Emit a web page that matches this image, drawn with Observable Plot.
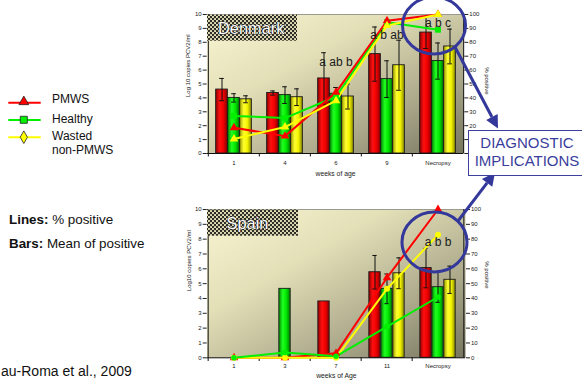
<!DOCTYPE html>
<html><head><meta charset="utf-8">
<script src="https://cdn.jsdelivr.net/npm/d3@7"></script>
<script src="https://cdn.jsdelivr.net/npm/@observablehq/plot@0.6"></script>
<style>
html,body{margin:0;padding:0}
body{width:582px;height:383px;position:relative;overflow:hidden;background:#fff;font-family:"Liberation Sans",Arial,sans-serif;color:#111}
.abs{position:absolute;white-space:nowrap}
</style></head><body>
<svg width="0" height="0" style="position:absolute">
<defs>
<linearGradient id="bgGrad" x1="0" y1="0" x2="1" y2="1">
<stop offset="0" stop-color="#f8f5d3"/><stop offset="0.35" stop-color="#e3dfb7"/><stop offset="0.7" stop-color="#aeab8d"/><stop offset="1" stop-color="#76755f"/>
</linearGradient>
<linearGradient id="bar0" x1="0" y1="0" x2="1" y2="0">
<stop offset="0" stop-color="#900000"/><stop offset="0.35" stop-color="#ff1010"/><stop offset="0.65" stop-color="#f00000"/><stop offset="1" stop-color="#8a0000"/>
</linearGradient>
<linearGradient id="bar1" x1="0" y1="0" x2="1" y2="0">
<stop offset="0" stop-color="#008800"/><stop offset="0.35" stop-color="#20ff20"/><stop offset="0.65" stop-color="#00e800"/><stop offset="1" stop-color="#007a00"/>
</linearGradient>
<linearGradient id="bar2" x1="0" y1="0" x2="1" y2="0">
<stop offset="0" stop-color="#9a9a00"/><stop offset="0.35" stop-color="#ffff30"/><stop offset="0.65" stop-color="#f5f500"/><stop offset="1" stop-color="#8a8a00"/>
</linearGradient>
<pattern id="dots" width="4" height="4" patternUnits="userSpaceOnUse">
<rect width="4" height="4" fill="#2e2e27"/><circle cx="1" cy="1" r="1.05" fill="#eeebc2"/><circle cx="3" cy="3" r="1.05" fill="#eeebc2"/>
</pattern>
</defs></svg>

<div id="dk" class="abs" style="left:160px;top:0px"></div>
<div id="es" class="abs" style="left:160px;top:190px"></div>
<svg id="ov" class="abs" style="left:0;top:0" width="582" height="383"></svg>

<div class="abs" style="left:52px;top:93.3px;font-size:12px;line-height:12px">PMWS</div>
<div class="abs" style="left:52px;top:113.3px;font-size:12px;line-height:12px">Healthy</div>
<div class="abs" style="left:52px;top:128.7px;font-size:12px;line-height:14.7px">Wasted<br>non-PMWS</div>
<div class="abs" style="left:9px;top:212.5px;font-size:13.4px;line-height:13px"><b>Lines:</b> % positive</div>
<div class="abs" style="left:9px;top:236.5px;font-size:13.4px;line-height:13px"><b>Bars:</b> Mean of positive</div>
<div class="abs" style="left:1px;top:364px;font-size:14px;line-height:14px">au-Roma et al., 2009</div>
<div class="abs" style="left:468px;top:130px;width:116px;height:41px;border:1px solid #3d409c;background:#fff;color:#3a3d9c;font-size:15px;line-height:18.3px;text-align:center;padding-top:3px;box-sizing:content-box">DIAGNOSTIC<br>IMPLICATIONS</div>

<script>
// ---- data ----
const series = ["PMWS", "Healthy", "Wasted non-PMWS"];
const seriesColors = ["#ff0000", "#00f000", "#ffff00"];

const dkWeeks = ["1", "4", "6", "9", "Necropsy"];
const dkPmwsMean = [4.6, 4.35, 5.4, 7.15, 8.7];
const dkPmwsErr = [0.8, 0.15, 1.85, 1.95, 1.15];
const dkHealthyMean = [4.0, 4.2, 4.3, 5.35, 6.65];
const dkHealthyErr = [0.3, 0.6, 0.45, 1.32, 1.3];
const dkWastedMean = [3.9, 4.05, 4.1, 6.35, 7.7];
const dkWastedErr = [0.25, 0.6, 0.9, 1.8, 1.25];
const dkPmwsPct = [18.5, 12.5, 44, 95.5, 100];
const dkHealthyPct = [27, 25.5, 41, 94.5, 89];
const dkWastedPct = [10.5, 19, 38, 92, 100];
const dkLetterWeeks = ["6", "9", "Necropsy"];
const dkLetters = ["a ab b", "a b ab", "a b c"];
const dkLetterLevel = [6.55, 8.5, 9.35];

const esWeeks = ["1", "3", "7", "11", "Necropsy"];
const esPmwsMean = [null, null, 3.8, 5.77, 6.05];
const esPmwsErr = [null, null, null, 1.13, 1.33];
const esHealthyMean = [null, 4.65, null, 4.65, 4.76];
const esHealthyErr = [null, null, null, 1.0, 1.02];
const esWastedMean = [null, null, null, 5.7, 5.26];
const esWastedErr = [null, null, null, 1.04, 0.92];
const esPmwsPct = [0, 0, 3, 54, 100];
const esHealthyPct = [0, 3.5, 1, 21, 41];
const esWastedPct = [0, 0, 0, 46.5, 83];
const esLetterWeeks = ["Necropsy"];
const esLetters = ["a b b"];
const esLetterLevel = [7.8];

const yTicks = [0, 1, 2, 3, 4, 5, 6, 7, 8, 9, 10];

function panel(o) {
  const plotW = o.width - o.ml - o.mr;
  const bw = plotW / o.weeks.length;
  const offs = [-12, 0, 12];
  const rows = [];
  series.forEach((name, s) => o.weeks.forEach((w, i) => rows.push({
    week: w, s, mean: o.means[s][i], err: o.errs[s][i], pct: o.pcts[s][i]
  })));
  const letterRows = o.letterWeeks.map((w, i) => ({week: w, label: o.letters[i], level: o.letterLevel[i]}));
  const marks = [Plot.frame({fill: "url(#bgGrad)"})];
  series.forEach((name, s) => {
    marks.push(Plot.barY(rows.filter(d => d.s === s && d.mean != null), {
      x: "week", y: "mean", fill: `url(#bar${s})`, stroke: "#1a1a1a", strokeWidth: 0.9,
      insetLeft: bw / 2 + offs[s] - 6, insetRight: bw / 2 - offs[s] - 6
    }));
  });
  series.forEach((name, s) => {
    const er = rows.filter(d => d.s === s && d.err != null);
    marks.push(Plot.ruleX(er, {x: "week", y1: d => d.mean - d.err, y2: d => d.mean + d.err, dx: offs[s], stroke: "#111", strokeWidth: 1}));
    for (const sign of [-1, 1]) {
      marks.push(Plot.tickY(er, {x: "week", y: d => d.mean + sign * d.err, stroke: "#111", strokeWidth: 1,
        insetLeft: bw / 2 + offs[s] - 2.5, insetRight: bw / 2 - offs[s] - 2.5}));
    }
  });
  // frame lines
  marks.push(Plot.ruleY([10], {stroke: "#9a9a90", strokeWidth: 1}));
  marks.push(Plot.ruleY([0], {stroke: "#111", strokeWidth: 1}));
  marks.push(Plot.ruleX([o.weeks[0]], {y1: 0, y2: 10, dx: -bw / 2, stroke: "#111"}));
  marks.push(Plot.ruleX([o.weeks[o.weeks.length - 1]], {y1: 0, y2: 10, dx: bw / 2, stroke: "#111"}));
  marks.push(Plot.ruleX(o.weeks, {y1: 0, y2: -0.25, dx: -bw / 2, stroke: "#111"}));
  // lines (% positive, right axis scaled by 10)
  o.lineOrder.forEach(s => {
    const lr = rows.filter(d => d.s === s);
    marks.push(Plot.line(lr, {x: "week", y: d => d.pct / 10, stroke: seriesColors[s], strokeWidth: 2}));
  });
  o.lineOrder.forEach(s => {
    const lr = rows.filter(d => d.s === s);
    marks.push(Plot.dot(lr, {x: "week", y: d => d.pct / 10, fill: seriesColors[s], symbol: o.symbols[s], r: o.symR[s]}));
  });
  marks.push(Plot.text(letterRows, {x: "week", y: "level", text: "label", fontSize: 12, fill: "#1a1a1a"}));
  // axes
  marks.push(Plot.axisY({ticks: yTicks, tickSize: 4, tickPadding: 1.5, fontSize: 6, label: null}));
  marks.push(Plot.axisY({anchor: "right", ticks: yTicks, tickFormat: d => d * 10, tickSize: 4, tickPadding: 1.5, fontSize: 6, label: null}));
  marks.push(Plot.axisX({tickSize: 0, tickPadding: o.xPad, fontSize: 6, label: null}));
  marks.push(Plot.text([o.yLabel], {text: d => d, frameAnchor: "left", rotate: -90, dx: o.yLabelDx, dy: o.yLabelDy, fontSize: 6, fill: "#222"}));
  marks.push(Plot.text(["% positive"], {text: d => d, frameAnchor: "right", rotate: 90, dx: o.rLabelDx, dy: o.rLabelDy, fontSize: 6, fill: "#222"}));
  marks.push(Plot.text([o.xLabel], {text: d => d, frameAnchor: "bottom", dy: o.xLabelDy, fontSize: 6.8, fill: "#222"}));
  return Plot.plot({
    width: o.width, height: o.height,
    marginLeft: o.ml, marginRight: o.mr, marginTop: o.mt, marginBottom: o.mb,
    style: {background: "transparent", fontFamily: "Liberation Sans, Arial, sans-serif", color: "#222", overflow: "visible"},
    x: {type: "band", domain: o.weeks, padding: 0},
    y: {domain: [0, 10]},
    marks
  });
}

document.getElementById("dk").append(panel({
  weeks: dkWeeks, width: 340, height: 185, ml: 46.7, mr: 36.7, mt: 14, mb: 32,
  means: [dkPmwsMean, dkHealthyMean, dkWastedMean],
  errs: [dkPmwsErr, dkHealthyErr, dkWastedErr],
  pcts: [dkPmwsPct, dkHealthyPct, dkWastedPct],
  symbols: ["triangle", "square", "triangle"], symR: [3.2, 3.3, 3.2],
  lineOrder: [1, 0, 2],
  letterWeeks: dkLetterWeeks, letters: dkLetters, letterLevel: dkLetterLevel,
  yLabel: "Log 10 copies PCV2/ml", xLabel: "weeks of age",
  xPad: 7, yLabelDx: -19.4, yLabelDy: 13, rLabelDx: 22.7, rLabelDy: 10.5, xLabelDy: 22
}));

document.getElementById("es").append(panel({
  weeks: esWeeks, width: 340, height: 193, ml: 46.7, mr: 35, mt: 19, mb: 25.7,
  means: [esPmwsMean, esHealthyMean, esWastedMean],
  errs: [esPmwsErr, esHealthyErr, esWastedErr],
  pcts: [esPmwsPct, esHealthyPct, esWastedPct],
  symbols: ["triangle", "circle", "circle"], symR: [3.2, 2.8, 3.0],
  lineOrder: [0, 2, 1],
  letterWeeks: esLetterWeeks, letters: esLetters, letterLevel: esLetterLevel,
  yLabel: "Log10 copies PCV2/ml", xLabel: "weeks of Age",
  xPad: 5.5, yLabelDx: -18.4, yLabelDy: 7.5, rLabelDx: 21, rLabelDy: 5, xLabelDy: 20
}));

// ---- overlay decorations ----
const ov = d3.select("#ov");
const blue = "#33389a";
function titleBox(x, y, w, h, label, tx, ty) {
  ov.append("rect").attr("x", x).attr("y", y).attr("width", w).attr("height", h).attr("fill", "url(#dots)");
  ov.append("text").attr("x", tx).attr("y", ty).text(label)
    .attr("font-size", 16.4).attr("font-family", "Liberation Sans, Arial, sans-serif")
    .attr("fill", "#fff").attr("stroke", "#222").attr("stroke-width", 1).attr("paint-order", "stroke");
}
titleBox(207, 14.5, 90, 26.2, "Denmark", 218, 33.8);
titleBox(207, 209.5, 91, 26.2, "Spain", 226.5, 229.2);

ov.append("ellipse").attr("cx", 434).attr("cy", 25.5).attr("rx", 31.5).attr("ry", 28.5)
  .attr("fill", "none").attr("stroke", blue).attr("stroke-width", 3);
ov.append("ellipse").attr("cx", 434.5).attr("cy", 242).attr("rx", 32.5).attr("ry", 30)
  .attr("fill", "none").attr("stroke", blue).attr("stroke-width", 3);

function arrow(x1, y1, x2, y2) {
  const a = Math.atan2(y2 - y1, x2 - x1), L = 13, W = 6.5;
  const bx = x2 - L * Math.cos(a), by = y2 - L * Math.sin(a);
  ov.append("line").attr("x1", x1).attr("y1", y1).attr("x2", bx).attr("y2", by)
    .attr("stroke", blue).attr("stroke-width", 3);
  ov.append("polygon").attr("points", [
    [x2, y2], [bx + W * Math.sin(a), by - W * Math.cos(a)], [bx - W * Math.sin(a), by + W * Math.cos(a)]
  ].map(p => p.join(",")).join(" ")).attr("fill", blue);
}
arrow(455, 47, 498, 128.5);
arrow(458, 221, 495, 172.5);

// legend symbols
const lg = ov.append("g");
const lgY = [102.7, 120, 137.3];
const lgSym = [d3.symbolTriangle, d3.symbolSquare, d3.symbolDiamond];
const lgSize = [42, 50, 46];
const lgCy = [101.8, 119.8, 137.2];
lgY.forEach((y, s) => {
  lg.append("line").attr("x1", 8.3).attr("x2", 40.7).attr("y1", y).attr("y2", y)
    .attr("stroke", seriesColors[s]).attr("stroke-width", 2);
  lg.append("path").attr("d", d3.symbol(lgSym[s], lgSize[s])())
    .attr("transform", `translate(23.8,${lgCy[s]})`)
    .attr("fill", seriesColors[s]).attr("stroke", "#222").attr("stroke-width", 0.8);
});
</script>
</body></html>
